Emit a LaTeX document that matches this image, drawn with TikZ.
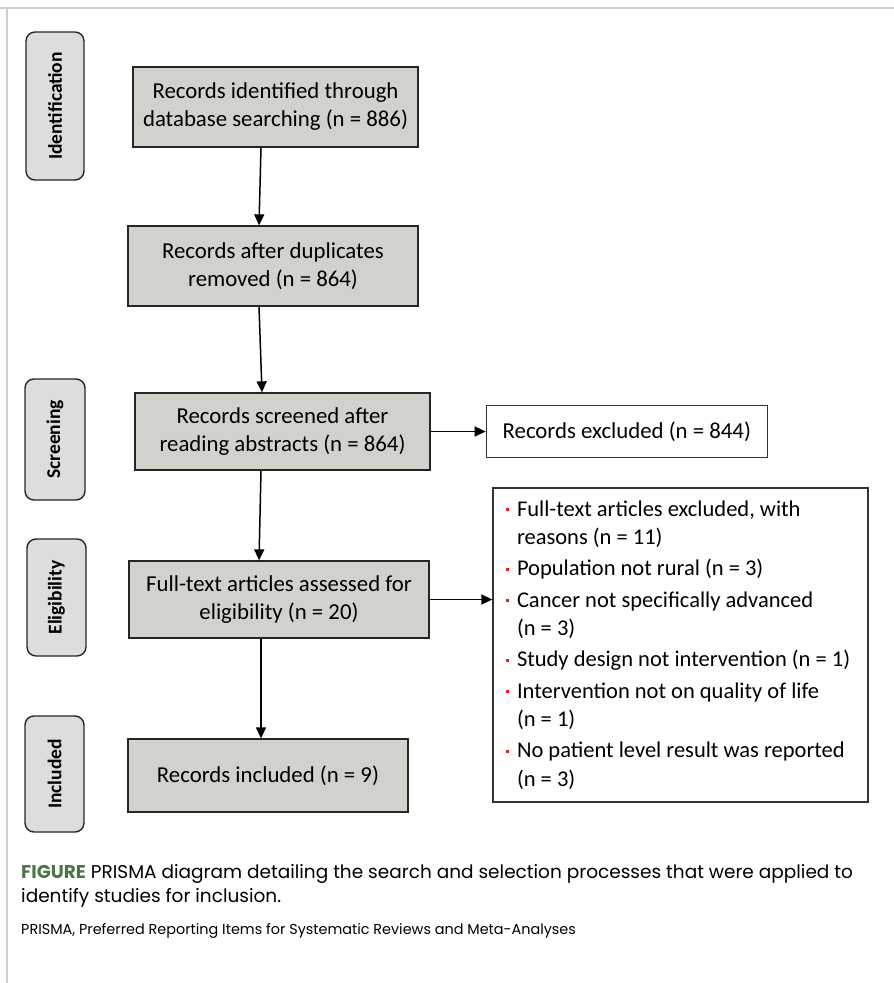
\documentclass[tikz,border=0pt]{standalone}
\usepackage{fontspec}
\setmainfont{Carlito}
\newfontfamily\capfont{Poppins}
\usepackage{xcolor}
\usetikzlibrary{arrows.meta, positioning}

\definecolor{boxgray}{RGB}{208,211,204}
\definecolor{phasegray}{RGB}{221,221,221}
\definecolor{framegray}{RGB}{208,208,208}
\definecolor{figgreen}{RGB}{76,118,72}
\definecolor{bulred}{RGB}{232,28,28}

% small red square in front of each reason
\newcommand{\redbul}{\noindent\llap{\textcolor{bulred}{\rule[5pt]{3pt}{3pt}}\hspace{8.5pt}}}

\begin{document}
\begin{tikzpicture}[
  x=1pt, y=-1pt,
  every node/.style={font=\fontsize{22.8}{28}\selectfont},
  phase/.style={rectangle, rounded corners=9pt, draw=black!85, line width=1.4pt, fill=phasegray, rotate=90, inner sep=0pt, font=\fontsize{19.5}{22}\selectfont\bfseries},
  flow/.style={rectangle, draw=black!85, line width=1.3pt, fill=boxgray, align=center, inner sep=0pt},
  outbox/.style={rectangle, draw=black!80, line width=1.3pt, fill=white, inner sep=0pt},
  arr/.style={-{Triangle[length=11pt,width=10pt]}, line width=1.5pt},
  frame/.style={line width=2.5pt, framegray},
  capt/.style={anchor=base west, inner sep=0pt, font=\capfont\fontsize{18.5}{22}\selectfont},
]
\useasboundingbox (0,0) rectangle (894,983);

% Page frame
\draw[frame] (0,8) -- (894,8);
\draw[frame] (7,8) -- (7,983);

% Phase labels (left column)
\node[phase, minimum width=148pt, minimum height=58pt] (idn) at (55,106) {Identification};
\node[phase, minimum width=121pt, minimum height=60pt] (scr) at (55,439.5) {Screening};
\node[phase, minimum width=117pt, minimum height=59pt] (elg) at (56.5,597.5) {Eligibility};
\node[phase, minimum width=116pt, minimum height=59pt] (inc) at (54.5,774) {Included};

% Main flow
\node[flow, minimum width=285pt, minimum height=80pt] (ident) at (275.5,107) {Records identified through\\database searching (n = 886)};
\node[flow, minimum width=290pt, minimum height=80pt] (dupl) at (273,266) {Records after duplicates\\removed (n = 864)};
\node[flow, minimum width=295pt, minimum height=77pt] (screen) at (282.5,431.5) {Records screened after\\reading abstracts (n = 864)};
\node[flow, minimum width=300pt, minimum height=77pt] (full) at (279,599.5) {Full-text articles assessed for\\eligibility (n = 20)};
\node[flow, minimum width=280pt, minimum height=73pt] (incl) at (268,775.5) {Records included (n = 9)};

% Exclusions (right)
\node[outbox, minimum width=281pt, minimum height=52pt, right=55pt of screen] (excl) {Records excluded (n = 844)};
\node[outbox, minimum width=375pt, minimum height=314pt, text width=360pt, inner xsep=7.5pt, align=flush left,
      font=\fontsize{22.5}{28.5}\selectfont] (reasons) at (680.5,645) {\leftskip=16.5pt
\redbul Full-text articles excluded, with\\reasons (n = 11)\\[2.7pt]
\redbul Population not rural (n = 3)\\[2.7pt]
\redbul Cancer not specifically advanced\\(n = 3)\\[2.7pt]
\redbul Study design not intervention (n = 1)\\[2.7pt]
\redbul Intervention not on quality of life\\(n = 1)\\[2.7pt]
\redbul No patient level result was reported\\(n = 3)\par};

% Arrows down
\draw[arr] ([xshift=-14.5pt]ident.south) -- ([xshift=-14pt]dupl.north);
\draw[arr] ([xshift=-14pt]dupl.south) -- ([xshift=-20.5pt]screen.north);
\draw[arr] ([xshift=-21.5pt]screen.south) -- ([xshift=-20pt]full.north);
\draw[arr] ([xshift=-18pt]full.south) -- ([xshift=-7pt]incl.north);

% Arrows right
\draw[arr] (screen.east) -- (excl.west);
\draw[arr] ([xshift=-2pt]full.east) -- (full.east -| reasons.west);

% Caption
\node[capt] (cap1) at (21,878) {\textcolor{figgreen}{\bfseries FIGURE} PRISMA diagram detailing the search and selection processes that were applied to};
\node[capt] (cap2) at ([yshift=-24pt]cap1.base west) {identify studies for inclusion.};
\node[capt, font=\capfont\fontsize{14.4}{17}\selectfont] (note) at (21,934) {PRISMA, Preferred Reporting Items for Systematic Reviews and Meta-Analyses};

\end{tikzpicture}
\end{document}
